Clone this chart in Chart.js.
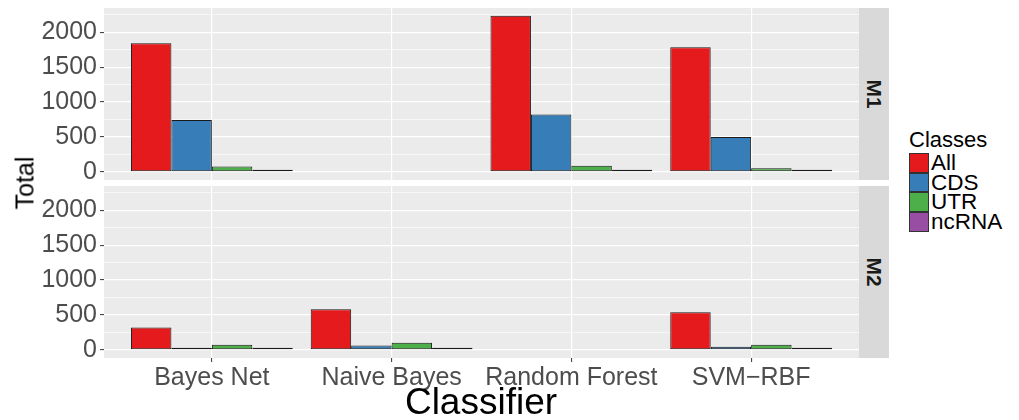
<!DOCTYPE html>
<html>
<head>
<meta charset="utf-8">
<script src="https://cdn.jsdelivr.net/npm/chart.js@4.4.1/dist/chart.umd.min.js"></script>
<style>
body { margin: 0; background: #fff; font-family: "Liberation Sans", Arial, sans-serif; }
#wrap { position: relative; width: 1019px; height: 420px; overflow: hidden; }
canvas { position: absolute; left: 0; }
#panelM1 { top: 0; }
#panelM2 { top: 180px; }
.strip { position: absolute; left: 859px; width: 30px; background: #D9D9D9; }
.strip span { position: absolute; left: 50%; top: 50%; transform: translate(-50%, -50%) rotate(90deg);
  font-weight: bold; font-size: 21px; color: #1A1A1A; white-space: nowrap; line-height: 1; }
#ytitle { position: absolute; left: 25px; top: 183px; transform: translate(-50%, -50%) rotate(-90deg);
  font-size: 25px; line-height: 1; color: #000; }
#xtitle { position: absolute; left: 481px; top: 383px; transform: translateX(-50%);
  font-size: 37px; line-height: 1; color: #000; white-space: nowrap; }
#legend { position: absolute; left: 909px; top: 129px; }
#legend .title { font-size: 22px; line-height: 1; height: 24px; color: #000; }
#legend .row { display: flex; height: 19.7px; align-items: center; }
#legend .key { width: 20px; height: 19.7px; box-sizing: border-box; border: 1px solid #333; }
#legend .lab { margin-left: 2px; font-size: 22.5px; line-height: 19.7px; color: #000; }
</style>
</head>
<body>
<div id="wrap">
  <canvas id="panelM1" width="859" height="180"></canvas>
  <canvas id="panelM2" width="859" height="240"></canvas>
  <div class="strip" style="top:8px;height:172px"><span>M1</span></div>
  <div class="strip" style="top:186px;height:172px"><span>M2</span></div>
  <div id="ytitle">Total</div>
  <div id="xtitle">Classifier</div>
  <div id="legend"><div class="title">Classes</div></div>
</div>
<script>
const classifiers = ['Bayes Net', 'Naive Bayes', 'Random Forest', 'SVM\u2212RBF'];
const classes = ['All', 'CDS', 'UTR', 'ncRNA'];
const classColors = ['#E41A1C', '#377EB8', '#4DAF4A', '#984EA3'];

// facet M1 (null = no bar for that classifier)
const m1All   = [1842, null, 2239, 1785];
const m1CDS   = [742,  null, 823,  498];
const m1UTR   = [77,   null, 86,   53];
const m1ncRNA = [5,    null, 5,    4];

// facet M2
const m2All   = [320, 582, null, 539];
const m2CDS   = [29,  62,  null, 43];
const m2UTR   = [72,  100, null, 72];
const m2ncRNA = [3,   3,   null, 3];

const yMajor = [0, 500, 1000, 1500, 2000];
const yMinor = [250, 750, 1250, 1750, 2250];
const yLimits = [-117, 2349];

// grey ggplot panel behind the grid
const panelBg = {
    id: 'panelBg',
    beforeDraw(chart) {
        const { ctx, chartArea: a } = chart;
        ctx.save();
        ctx.fillStyle = '#EBEBEB';
        ctx.fillRect(a.left, a.top, a.right - a.left, a.bottom - a.top);
        ctx.restore();
    }
};

function makeDatasets(series) {
    return series.map((vals, i) => ({
        label: classes[i],
        data: vals.map((v, j) => ({ x: j + 1, y: v })),
        backgroundColor: classColors[i],
        borderColor: '#1a1a1a',
        borderWidth: 1,
        borderSkipped: false,
        minBarLength: 2,
        categoryPercentage: 0.9,
        barPercentage: 1.0
    }));
}

const isMajor = c => c.tick && yMajor.includes(c.tick.value);

function makePanel(canvasId, series, showX) {
    const ctx = document.getElementById(canvasId).getContext('2d');
    return new Chart(ctx, {
        type: 'bar',
        data: { datasets: makeDatasets(series) },
        options: {
            responsive: false,
            animation: false,
            devicePixelRatio: 1,
            layout: { padding: { top: showX ? 6 : 8, left: 0, right: 0, bottom: 0 } },
            plugins: { legend: { display: false }, tooltip: { enabled: false } },
            scales: {
                x: {
                    type: 'linear',
                    min: 0.4,
                    max: 4.6,
                    offset: false,
                    afterBuildTicks: s => { s.ticks = classifiers.map((c, i) => ({ value: i + 1 })); },
                    afterFit: s => { s.height = showX ? 62 : 0; s.paddingLeft = 0; s.paddingRight = 0; },
                    grid: { offset: false, color: '#fff', lineWidth: 1.2, drawTicks: showX, tickLength: 4, tickColor: '#333', tickWidth: 1 },
                    border: { display: false },
                    ticks: {
                        display: showX, padding: 1, color: '#4D4D4D', autoSkip: false, maxRotation: 0,
                        font: { size: 25 },
                        callback: v => classifiers[v - 1]
                    }
                },
                y: {
                    min: yLimits[0],
                    max: yLimits[1],
                    afterBuildTicks: s => {
                        s.ticks = yMajor.concat(yMinor).sort((a, b) => a - b).map(v => ({ value: v }));
                    },
                    afterFit: s => { s.width = 104; s.paddingTop = 0; s.paddingBottom = 0; },
                    grid: {
                        color: '#fff',
                        lineWidth: c => isMajor(c) ? 1.2 : 0.6,
                        tickLength: 4,
                        tickWidth: 1,
                        tickColor: c => isMajor(c) ? '#333' : 'rgba(0,0,0,0)'
                    },
                    border: { display: false },
                    ticks: {
                        padding: 3, color: '#4D4D4D', autoSkip: false,
                        font: { size: 25 },
                        callback: v => yMajor.includes(v) ? String(v) : ''
                    }
                }
            }
        },
        plugins: [panelBg]
    });
}

Chart.defaults.font.family = '"Liberation Sans", Arial, sans-serif';

makePanel('panelM1', [m1All, m1CDS, m1UTR, m1ncRNA], false);
makePanel('panelM2', [m2All, m2CDS, m2UTR, m2ncRNA], true);

// legend
const legend = document.getElementById('legend');
classes.forEach((c, i) => {
    const row = document.createElement('div');
    row.className = 'row';
    row.innerHTML = `<div class="key" style="background:${classColors[i]}"></div><div class="lab">${c}</div>`;
    legend.appendChild(row);
});
</script>
</body>
</html>
